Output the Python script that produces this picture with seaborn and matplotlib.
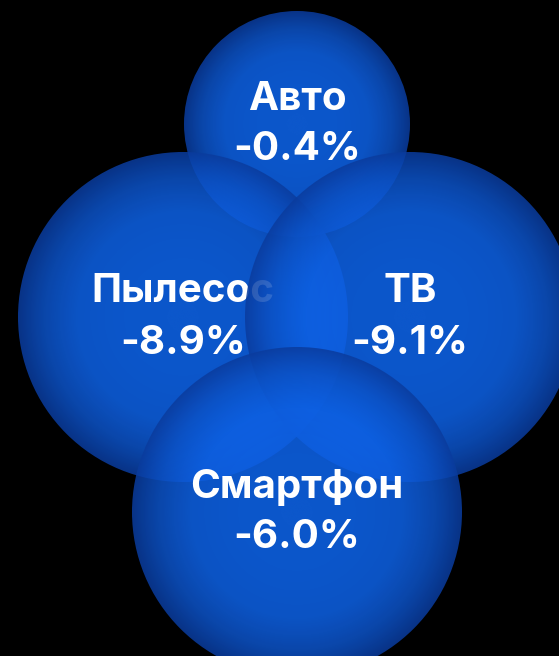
import numpy as np
import matplotlib
matplotlib.use('Agg')
import matplotlib.pyplot as plt
from matplotlib.patches import Circle
import seaborn as sns

# Data
categories = ['Авто', 'Пылесос', 'ТВ', 'Смартфон']
changes = [-0.4, -8.9, -9.1, -6.0]

# Bubble layout (pixel space), drawing order as in the reference
bubble_x = [297, 183, 410, 297]
bubble_y = [124, 317, 317, 512]
bubble_r = [113, 165, 165, 165]

sns.set_theme(style='dark', rc={'axes.facecolor': 'black', 'figure.facecolor': 'black'})
plt.rcParams['font.family'] = ['Inter', 'DejaVu Sans']

# Radial gradient: light centre -> darker rim
cmap = sns.blend_palette(['#0f66ee', '#0e62e6', '#0c52c6', '#0a3c9e'], as_cmap=True)

fig = plt.figure(figsize=(5.59, 6.56), dpi=100)
ax = fig.add_axes([0, 0, 1, 1])
ax.set_xlim(0, 559)
ax.set_ylim(656, 0)
ax.set_aspect('equal')
ax.axis('off')

n = 400
g = np.linspace(-1, 1, n)
xx, yy = np.meshgrid(g, g)
dist = np.clip(np.sqrt(xx ** 2 + yy ** 2), 0, 1)
shade = dist ** 2.4

for i, (cat, val) in enumerate(zip(categories, changes)):
    cx, cy, r = bubble_x[i], bubble_y[i], bubble_r[i]
    img = ax.imshow(shade, cmap=cmap, vmin=0, vmax=1,
                    extent=(cx - r, cx + r, cy + r, cy - r),
                    alpha=0.86, zorder=2 * i + 1, interpolation='bilinear')
    clip = Circle((cx, cy), r, transform=ax.transData)
    img.set_clip_path(clip)
    ax.text(cx, cy - 25, cat, color='white', fontsize=29, fontweight='bold',
            ha='center', va='center', zorder=2 * i + 2)
    ax.text(cx, cy + 26, f'{val:.1f}%', color='white', fontsize=29, fontweight='bold',
            ha='center', va='center', zorder=2 * i + 2)

fig.savefig('out.png', dpi=100, facecolor='black')
